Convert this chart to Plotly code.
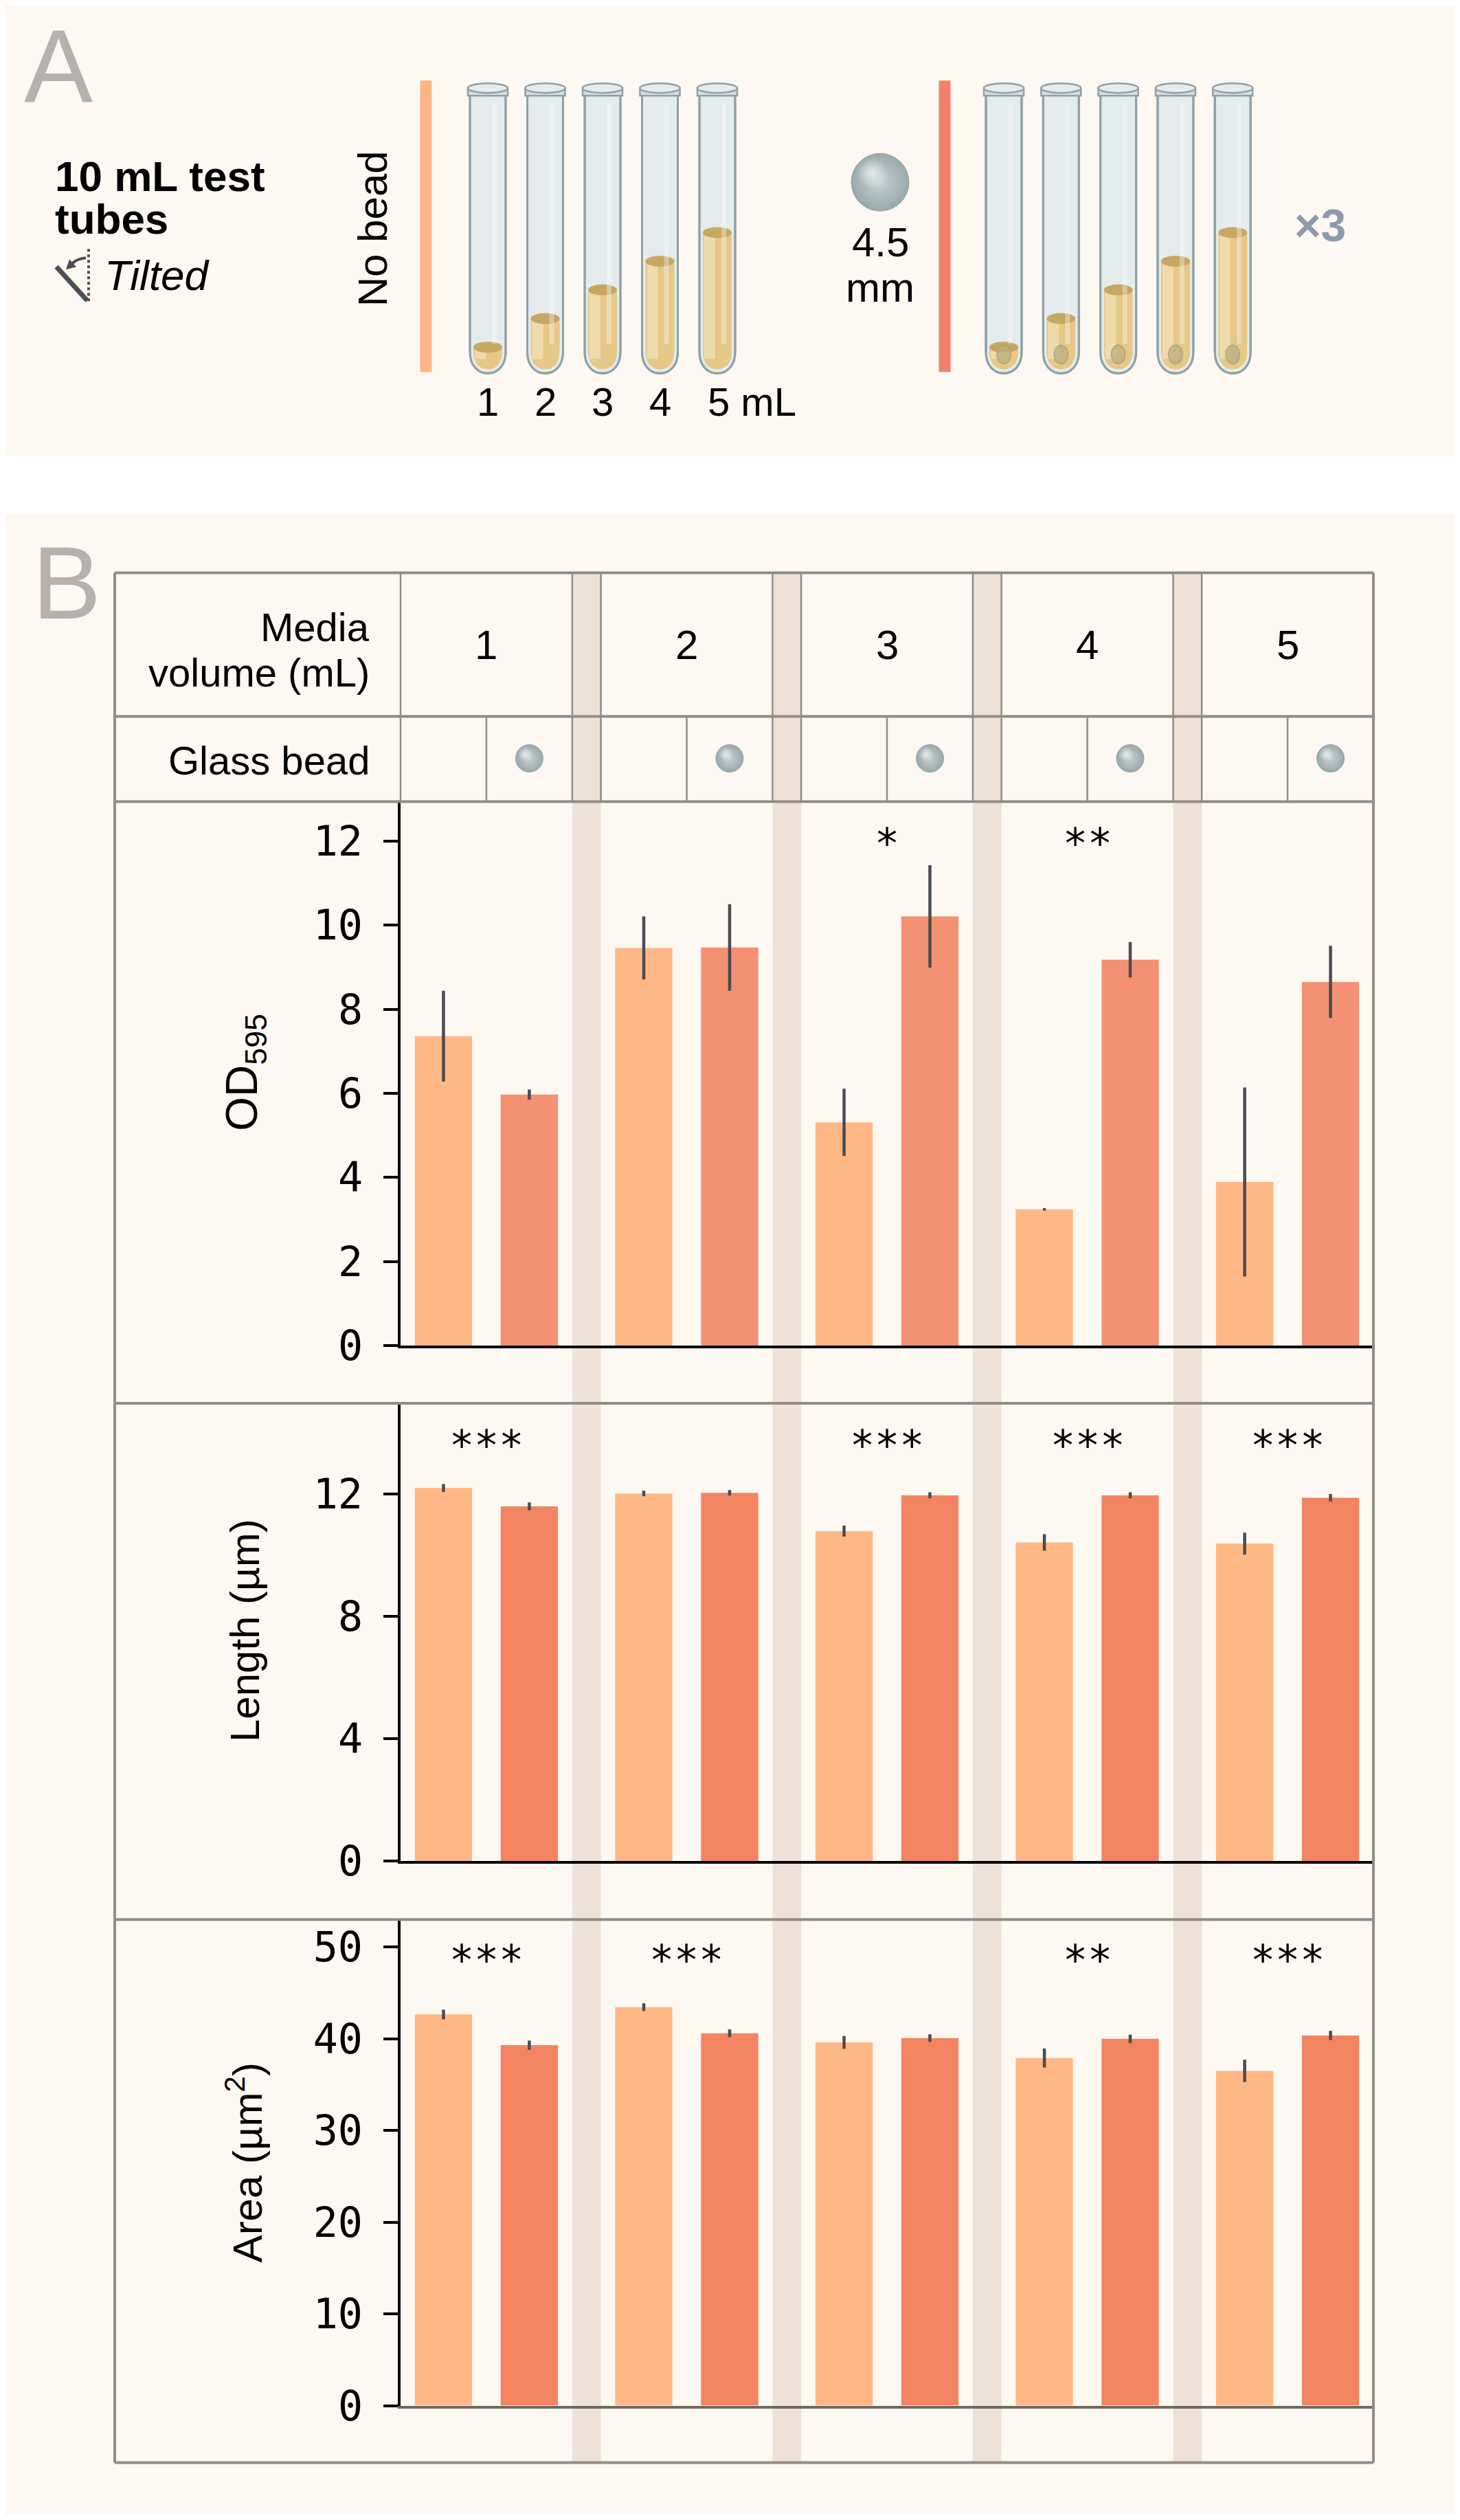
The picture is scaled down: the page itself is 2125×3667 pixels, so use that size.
import plotly.graph_objects as go

# ---- data ----
groups = ["1", "2", "3", "4", "5"]  # media volume (mL)

od_nobead = [7.36, 9.46, 5.31, 3.24, 3.89]
od_nobead_err = [1.08, 0.75, 0.80, 0.03, 2.25]
od_bead = [5.97, 9.47, 10.21, 9.18, 8.65]
od_bead_err = [0.12, 1.03, 1.22, 0.42, 0.86]

len_nobead = [12.20, 12.02, 10.79, 10.42, 10.38]
len_nobead_err = [0.13, 0.09, 0.18, 0.27, 0.36]
len_bead = [11.60, 12.04, 11.96, 11.96, 11.88]
len_bead_err = [0.13, 0.09, 0.10, 0.10, 0.12]

area_nobead = [42.65, 43.45, 39.60, 37.90, 36.50]
area_nobead_err = [0.53, 0.42, 0.70, 1.04, 1.22]
area_bead = [39.30, 40.60, 40.07, 40.00, 40.36]
area_bead_err = [0.50, 0.42, 0.42, 0.45, 0.50]

od_stars = ["", "", "*", "**", ""]
len_stars = ["***", "", "***", "***", "***"]
area_stars = ["***", "***", "", "**", "***"]

tube_volumes = [1, 2, 3, 4, 5]

od_ticks = [0, 2, 4, 6, 8, 10, 12]
len_ticks = [0, 4, 8, 12]
area_ticks = [0, 10, 20, 30, 40, 50]

# ---- style ----
W, H = 2125, 3667          # page size
OFF = 8                    # browser body margin
FW, FH = W - 2 * OFF, H - 2 * OFF
YS = 1.0101                # vertical correction seen in the rendered page
BG = "#FDF8F2"
GAP = "#EDE1D8"
FRAME = "#928B86"
C_NOBEAD = "#FFB885"
C_BEAD_OD = "#F39172"
C_BEAD = "#F38461"
ERR = "#4B4B50"
TEXT = "Liberation Sans, Arial, sans-serif"
MONO = "DejaVu Sans Mono, monospace"

# group layout in bar-axis units: each group 6 wide, gap 1
GW, GP = 6, 7
NX = GP * (len(groups) - 1) + GW
PX0, PX1 = 583, 1999
UPX = (PX1 - PX0) / NX


def px(u):
    return PX0 + u * UPX


def pY(py):
    return 1 - (py * YS - OFF) / FH


x_nb = [GP * i + 1.5 for i in range(len(groups))]
x_b = [GP * i + 4.5 for i in range(len(groups))]
x_c = [GP * i + GW / 2 for i in range(len(groups))]

fig = go.Figure()

panels = [
    # (xaxis, yaxis, nobead, nb_err, bead, b_err, bead colour, stars, star_y)
    ("x", "y", od_nobead, od_nobead_err, od_bead, od_bead_err, C_BEAD_OD, od_stars, 11.95),
    ("x2", "y2", len_nobead, len_nobead_err, len_bead, len_bead_err, C_BEAD, len_stars, 13.6),
    ("x3", "y3", area_nobead, area_nobead_err, area_bead, area_bead_err, C_BEAD, area_stars, 48.6),
]

annotations = []
for xa, ya, nb, nbe, b, be, bc, stars, sy in panels:
    fig.add_trace(go.Bar(
        x=x_nb, y=nb, width=2, marker_color=C_NOBEAD, marker_line_width=0,
        error_y=dict(type="data", array=nbe, color=ERR, thickness=4.5, width=0),
        xaxis=xa, yaxis=ya, showlegend=False, name="No bead"))
    fig.add_trace(go.Bar(
        x=x_b, y=b, width=2, marker_color=bc, marker_line_width=0,
        error_y=dict(type="data", array=be, color=ERR, thickness=4.5, width=0),
        xaxis=xa, yaxis=ya, showlegend=False, name="Glass bead"))
    for xc, s in zip(x_c, stars):
        if s:
            annotations.append(dict(x=xc, y=sy, xref=xa, yref=ya, text=s, showarrow=False,
                                    font=dict(family=MONO, size=60, color="black"),
                                    yanchor="middle"))

# ---- overlay axis in page pixel units for illustration + table ----
shapes = []


def ov(**kw):
    d = dict(xref="x4", yref="y4")
    d.update(kw)
    return d


def txt(x, y, s, size=60, xanchor="center", color="black", angle=0, family=TEXT):
    annotations.append(dict(x=x, y=y, xref="x4", yref="y4", text=s, showarrow=False,
                            xanchor=xanchor, yanchor="middle", textangle=angle,
                            font=dict(family=family, size=size, color=color)))


# white strip between panels
shapes.append(ov(type="rect", x0=0, x1=W, y0=663, y1=748, fillcolor="white",
                 line_width=0, layer="below"))

# ---- panel A ----
txt(33, 96, "A", size=150, xanchor="left", color="#B8B1AA")
txt(78, 256, "<b>10 mL test</b>", size=62, xanchor="left")
txt(78, 318, "<b>tubes</b>", size=62, xanchor="left")
txt(150, 400, "<i>Tilted</i>", size=62, xanchor="left")
# tilted icon
ICON = "#4A4E55"
shapes.append(ov(type="line", x0=82, y0=388, x1=127, y1=437, line=dict(color=ICON, width=7)))
shapes.append(ov(type="line", x0=129, y0=362, x1=129, y1=438,
                 line=dict(color=ICON, width=4, dash="dot")))
shapes.append(ov(type="path", path="M 125,375 Q 112,376 104,384",
                 line=dict(color=ICON, width=4)))
shapes.append(ov(type="path", path="M 96,392 L 101,377 L 111,388 Z",
                 fillcolor=ICON, line_width=0))
txt(542, 333, "No bead", size=60, angle=-90)

shapes.append(ov(type="line", x0=620, x1=620, y0=117, y1=541,
                 line=dict(color="#FFB582", width=17)))
shapes.append(ov(type="line", x0=1375, x1=1375, y0=117, y1=541,
                 line=dict(color="#F2826A", width=17)))

tube_x_nobead = [710 + 83.5 * i for i in range(len(tube_volumes))]
tube_x_bead = [1461 + 83.3 * i for i in range(len(tube_volumes))]
GLASS_LINE = "#8FA1A5"


def tube(cx, vol, bead):
    out = (f"M {cx-26},132 L {cx-26},512 C {cx-26},532 {cx-14},543 {cx},543 "
           f"C {cx+14},543 {cx+26},532 {cx+26},512 L {cx+26},132 Z")
    shapes.append(ov(type="path", path=out, fillcolor="#E4EBEC",
                     line=dict(color=GLASS_LINE, width=3), layer="below"))
    level = 546.7 - 41.7 * vol
    liq = (f"M {cx-21},{level} L {cx-21},512 C {cx-21},529 {cx-11},537 {cx},537 "
           f"C {cx+11},537 {cx+21},529 {cx+21},512 L {cx+21},{level} Z")
    shapes.append(ov(type="path", path=liq, fillcolor="#E6C887", line_width=0, layer="below"))
    shapes.append(ov(type="rect", x0=cx - 19, x1=cx - 3, y0=level, y1=522,
                     fillcolor="#F5E7C2", opacity=0.6, line_width=0, layer="below"))
    shapes.append(ov(type="circle", x0=cx - 21, x1=cx + 21, y0=level - 8, y1=level + 8,
                     fillcolor="#C6A862", line_width=0, layer="below"))
    if bead:
        shapes.append(ov(type="circle", x0=cx - 10, x1=cx + 10, y0=502, y1=529,
                         fillcolor="#BDB283", opacity=0.8,
                         line=dict(color="#A9A27A", width=2), layer="below"))
    # glass highlight
    shapes.append(ov(type="rect", x0=cx + 6, x1=cx + 13, y0=150, y1=500,
                     fillcolor="white", opacity=0.35, line_width=0, layer="below"))
    shapes.append(ov(type="path", path=out, line=dict(color=GLASS_LINE, width=3), layer="below"))
    # rim
    shapes.append(ov(type="rect", x0=cx - 29, x1=cx + 29, y0=128, y1=139,
                     fillcolor="#D5DFE1", line=dict(color=GLASS_LINE, width=2.5), layer="below"))
    shapes.append(ov(type="circle", x0=cx - 29, x1=cx + 29, y0=121, y1=135,
                     fillcolor="#E6EDEE", line=dict(color=GLASS_LINE, width=2.5), layer="below"))


for cx, v in zip(tube_x_nobead, tube_volumes):
    tube(cx, v, False)
for cx, v in zip(tube_x_bead, tube_volumes):
    tube(cx, v, True)

for cx, v in zip(tube_x_nobead[:-1], tube_volumes[:-1]):
    txt(cx, 584, str(v), size=58)
txt(tube_x_nobead[-1] - 16, 584, f"{tube_volumes[-1]} mL", size=58, xanchor="left")

txt(1281, 352, "4.5", size=60)
txt(1281, 418, "mm", size=60)
txt(1921, 328, "<b>×3</b>", size=66, color="#8E9AAB")

# ---- panel B table ----
txt(45, 848, "B", size=150, xanchor="left", color="#B8B1AA")

TOP, R1, R2, P1, P2, BOT = 833, 1042, 1166, 2041, 2792, 3582
LX0 = 167

# gap bands
for i in range(len(groups) - 1):
    shapes.append(dict(type="rect", xref="x", yref="y4", x0=GP * i + GW, x1=GP * (i + 1),
                       y0=TOP, y1=BOT, fillcolor=GAP, line_width=0, layer="below"))

# horizontal frame lines
for yy in [TOP, R1, R2, P1, P2, BOT]:
    shapes.append(ov(type="line", x0=LX0, x1=PX1, y0=yy, y1=yy,
                     line=dict(color=FRAME, width=4)))
shapes.append(ov(type="line", x0=LX0, x1=LX0, y0=TOP, y1=BOT, line=dict(color=FRAME, width=4)))
shapes.append(ov(type="line", x0=PX1, x1=PX1, y0=TOP, y1=BOT, line=dict(color=FRAME, width=4)))
# header group borders and sub dividers
for i in range(len(groups)):
    for u in (GP * i, GP * i + GW):
        shapes.append(ov(type="line", x0=px(u), x1=px(u), y0=TOP, y1=R2,
                         line=dict(color=FRAME, width=2.5)))
    shapes.append(ov(type="line", x0=px(GP * i + GW / 2), x1=px(GP * i + GW / 2), y0=R1, y1=R2,
                     line=dict(color=FRAME, width=2.5)))

txt(540, 912, "Media", size=58, xanchor="right")
txt(540, 978, "volume (mL)", size=58, xanchor="right")
txt(540, 1106, "Glass bead", size=58, xanchor="right")
for xc, g in zip(x_c, groups):
    txt(px(xc), 938, g, size=60)

# beads (header + panel A): base sphere + soft highlight
bead_x = [px(u) for u in x_b] + [1281]
bead_y = [1103] * len(groups) + [265]
bead_s = [40] * len(groups) + [84]
fig.add_trace(go.Scatter(
    x=bead_x, y=bead_y, mode="markers", xaxis="x4", yaxis="y4", showlegend=False,
    hoverinfo="skip",
    marker=dict(size=bead_s, color="#6F888F", line=dict(color="#6A8289", width=1),
                gradient=dict(type="radial", color="#AFC1C6"))))
fig.add_trace(go.Scatter(
    x=[x - s * 0.14 for x, s in zip(bead_x, bead_s)],
    y=[y - s * 0.16 for y, s in zip(bead_y, bead_s)],
    mode="markers", xaxis="x4", yaxis="y4", showlegend=False, hoverinfo="skip",
    marker=dict(size=[s * 0.55 for s in bead_s], color="rgba(255,255,255,0)", line_width=0,
                gradient=dict(type="radial", color="rgba(255,255,255,0.95)"))))

# y axis titles
txt(356, 1560, "OD<sub>595</sub>", size=64, angle=-90)
txt(356, 2372, "Length (µm)", size=60, angle=-90)
txt(356, 3146, "Area (µm<sup>2</sup>)", size=60, angle=-90)

# ---- axes ----
xdom = [(PX0 - OFF) / FW, (PX1 - OFF) / FW]


def xax(anchor, linecolor="black"):
    return dict(domain=xdom, range=[0, NX], anchor=anchor, showticklabels=False, ticks="",
                showgrid=False, zeroline=False, showline=True, linecolor=linecolor,
                linewidth=4, fixedrange=True)


def yax(anchor, dom, rng, ticks):
    return dict(domain=dom, range=rng, anchor=anchor, tickvals=ticks, ticks="outside",
                ticklen=21, tickwidth=4, tickcolor="black", showgrid=False, zeroline=False,
                showline=True, linecolor="black", linewidth=4, ticklabelstandoff=18,
                tickfont=dict(family=MONO, size=60, color="black"), fixedrange=True)


fig.update_layout(
    width=FW, height=FH,
    margin=dict(l=0, r=0, t=0, b=0),
    paper_bgcolor=BG, plot_bgcolor="rgba(0,0,0,0)",
    barmode="overlay",
    xaxis=xax("y"),
    yaxis=yax("x", [pY(1957), pY(R2)], [0, 12.94], od_ticks),
    xaxis2=xax("y2"),
    yaxis2=yax("x2", [pY(2707), pY(P1)], [0, 14.97], len_ticks),
    xaxis3=xax("y3", linecolor="#6E6863"),
    yaxis3=yax("x3", [pY(3499), pY(P2)], [0, 53.0], area_ticks),
    xaxis4=dict(domain=[0, 1], range=[OFF, OFF + FW], anchor="y4", visible=False,
                fixedrange=True),
    yaxis4=dict(domain=[0, 1], range=[(OFF + FH) / YS, OFF / YS], anchor="x4", visible=False,
                fixedrange=True),
    shapes=shapes,
    annotations=annotations,
)

fig.write_html("out.html")
